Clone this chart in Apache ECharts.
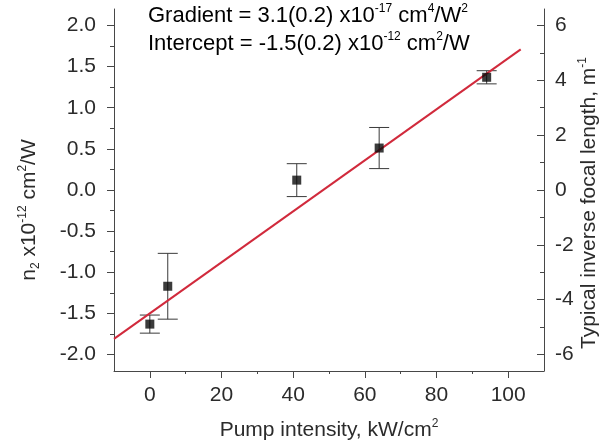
<!DOCTYPE html>
<html>
<head>
<meta charset="utf-8">
<script src="https://cdn.jsdelivr.net/npm/echarts@6/dist/echarts.min.js"></script>
<style>
  html, body { margin: 0; padding: 0; background: #ffffff; }
  #chart { width: 601px; height: 448px; }
</style>
</head>
<body>
<div id="chart"></div>
<script>
// Nonlinear refractive index n2 measured against pump intensity
const pumpIntensity = [0, 5, 41, 64, 94];            // kW/cm^2
const n2Values = [-1.63, -1.17, 0.12, 0.51, 1.37];   // x10^-12 cm^2/W
const n2Errors = [0.11, 0.40, 0.20, 0.25, 0.08];     // x10^-12 cm^2/W

// Linear fit n2 = intercept + gradient * I
const fitGradient = 3.1;        // x10^-17 cm^4/W^2
const fitIntercept = -1.5;      // x10^-12 cm^2/W
const fitRange = [-10, 103.5];  // kW/cm^2

// Tick positions
const xLabelTicks = [0, 20, 40, 60, 80, 100];
const xMinorTicks = [10, 30, 50, 70, 90];
const yLeftLabelTicks = [-2, -1.5, -1, -0.5, 0, 0.5, 1, 1.5, 2];
const yLeftMinorTicks = [-1.75, -1.25, -0.75, -0.25, 0.25, 0.75, 1.25, 1.75];
const yRightLabelTicks = [-6, -4, -2, 0, 2, 4, 6];
const yRightMinorTicks = [-5, -3, -1, 1, 3, 5];

const FONT = 'Liberation Sans, Arial, Helvetica, sans-serif';
const TEXT = '#2b2b2b';
const AXIS = '#474747';

// gradient in x10^-17 cm^4/W^2 -> slope in (x10^-12 cm^2/W) per (kW/cm^2)
const slope = fitGradient * 1e-17 * 1e3 / 1e-12;
const fitLine = fitRange.map(x => [x, fitIntercept + slope * x]);
const points = pumpIntensity.map((x, i) => [x, n2Values[i], n2Errors[i]]);

const richParts = (size) => ({
  t: { fontSize: size, fontFamily: FONT, color: TEXT, lineHeight: size + 4, verticalAlign: 'middle' },
  sup: { fontSize: Math.round(size * 0.55), fontFamily: FONT, color: TEXT, lineHeight: Math.round(size * 0.6), verticalAlign: 'top' },
  sub: { fontSize: Math.round(size * 0.55), fontFamily: FONT, color: TEXT, lineHeight: Math.round(size * 0.6), verticalAlign: 'bottom' }
});

function minorAxis(position, min, max, ticks, len, inside) {
  return {
    type: 'value', position: position, min: min, max: max,
    axisLine: { show: false, onZero: false },
    axisTick: { show: true, inside: inside, length: len, customValues: ticks, lineStyle: { color: AXIS, width: 1 } },
    axisLabel: { show: false },
    splitLine: { show: false }
  };
}

const chart = echarts.init(document.getElementById('chart'), null, { renderer: 'canvas' });

chart.setOption({
  backgroundColor: '#ffffff',
  animation: false,
  grid: { left: 114, right: 57, top: 9, bottom: 77, containLabel: false, outerBoundsMode: 'none' },
  xAxis: [
    {
      type: 'value', position: 'bottom', min: -10, max: 110,
      axisLine: { show: true, onZero: false, lineStyle: { color: AXIS, width: 1 } },
      axisTick: { show: true, length: 7, customValues: xLabelTicks, lineStyle: { color: AXIS, width: 1 } },
      axisLabel: { customValues: xLabelTicks, margin: 14, fontSize: 21, fontFamily: FONT, color: TEXT },
      splitLine: { show: false },
      name: '{t|Pump intensity, kW/cm}{sup|2}',
      nameLocation: 'middle', nameGap: 47, nameMoveOverlap: false,
      nameTextStyle: { rich: richParts(21) }
    },
    minorAxis('bottom', -10, 110, xMinorTicks, 3, false)
  ],
  yAxis: [
    {
      type: 'value', position: 'left', min: -2.2, max: 2.2,
      axisLine: { show: true, onZero: false, lineStyle: { color: AXIS, width: 1 } },
      axisTick: { show: true, length: 7, customValues: yLeftLabelTicks, lineStyle: { color: AXIS, width: 1 } },
      axisLabel: { customValues: yLeftLabelTicks, margin: 18, fontSize: 21, fontFamily: FONT, color: TEXT,
                   formatter: v => v.toFixed(1) },
      splitLine: { show: false },
      name: '{t|n}{sub|2}{t| x10}{sup|-12}{t| cm}{sup|2}{t|/W}',
      nameLocation: 'middle', nameGap: 72, nameMoveOverlap: false,
      nameTextStyle: { rich: richParts(21), padding: [0, 40, 0, 0] }
    },
    minorAxis('left', -2.2, 2.2, yLeftMinorTicks, 4, false),
    {
      type: 'value', position: 'right', min: -6.6, max: 6.6,
      axisLine: { show: true, onZero: false, lineStyle: { color: AXIS, width: 1 } },
      axisTick: { show: true, inside: true, length: 7, customValues: yRightLabelTicks, lineStyle: { color: AXIS, width: 1 } },
      axisLabel: { customValues: yRightLabelTicks, margin: 11, fontSize: 21, fontFamily: FONT, color: TEXT },
      splitLine: { show: false },
      name: '{t|Typical inverse focal length, m}{sup|-1}',
      nameLocation: 'middle', nameGap: 33, nameRotate: 90, nameMoveOverlap: false,
      nameTextStyle: { rich: richParts(21), padding: [0, 26, 0, 0] }
    },
    minorAxis('right', -6.6, 6.6, yRightMinorTicks, 4, true)
  ],
  graphic: [
    {
      type: 'text', left: 148, top: 3, z: 10,
      style: { text: '{t|Gradient = 3.1(0.2) x10}{sup|-17}{t| cm}{sup|4}{t|/W}{sup|2}', rich: richParts(22) }
    },
    {
      type: 'text', left: 148, top: 31, z: 10,
      style: { text: '{t|Intercept = -1.5(0.2) x10}{sup|-12}{t| cm}{sup|2}{t|/W}', rich: richParts(22) }
    }
  ],
  series: [
    {
      name: 'error', type: 'custom', xAxisIndex: 0, yAxisIndex: 0, z: 2,
      data: points,
      renderItem: function (params, api) {
        const x = api.value(0), y = api.value(1), e = api.value(2);
        const top = api.coord([x, y + e]);
        const bot = api.coord([x, y - e]);
        const hw = 10;
        const st = { stroke: '#3a3a3a', lineWidth: 1 };
        return {
          type: 'group',
          children: [
            { type: 'line', shape: { x1: top[0], y1: top[1], x2: bot[0], y2: bot[1] }, style: st },
            { type: 'line', shape: { x1: top[0] - hw, y1: top[1], x2: top[0] + hw, y2: top[1] }, style: st },
            { type: 'line', shape: { x1: bot[0] - hw, y1: bot[1], x2: bot[0] + hw, y2: bot[1] }, style: st }
          ]
        };
      }
    },
    {
      name: 'fit', type: 'line', xAxisIndex: 0, yAxisIndex: 0, z: 3,
      data: fitLine, showSymbol: false, symbol: 'none',
      lineStyle: { color: '#d12a3c', width: 2 }
    },
    {
      name: 'n2', type: 'scatter', xAxisIndex: 0, yAxisIndex: 0, z: 4,
      data: points.map(p => [p[0], p[1]]),
      symbol: 'rect', symbolSize: 9,
      itemStyle: { color: '#0a0a0a' }
    }
  ]
});
</script>
</body>
</html>
